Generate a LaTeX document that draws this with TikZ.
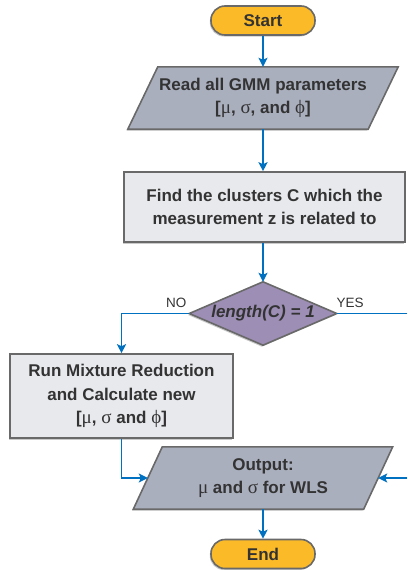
\documentclass[tikz,border=0pt]{standalone}
\usepackage{fontspec}
\setmainfont{Liberation Sans}
\newfontfamily\greekfont{Liberation Serif}
\usetikzlibrary{arrows.meta,shadows,backgrounds,calc}

\definecolor{flowblue}{RGB}{0,112,192}
\definecolor{edgegray}{RGB}{105,105,105}
\definecolor{termfill}{RGB}{251,186,40}
\definecolor{iofill}{RGB}{170,175,190}
\definecolor{procfill}{RGB}{232,233,237}
\definecolor{decfill}{RGB}{157,142,181}
\definecolor{textgray}{RGB}{51,51,51}

% upright serif Greek letters inside the bold sans labels
\newcommand{\gk}[1]{{\greekfont\mdseries\fontsize{19}{23.5}\selectfont #1}}

\begin{document}
\begin{tikzpicture}[x=1pt,y=-1pt,
  softshadow/.style={drop shadow={shadow xshift=-1.2pt,shadow yshift=-1.5pt,opacity=0.35,fill=black!60}},
  boxtext/.style={font=\fontsize{17}{23.5}\selectfont\bfseries, text=textgray, align=center, inner sep=0pt},
  terminal/.style={boxtext, draw=edgegray, line width=1.6pt, fill=termfill, rounded corners=14pt,
    minimum width=104pt, minimum height=29pt, softshadow},
  process/.style={boxtext, draw=edgegray, line width=1.6pt, fill=procfill, softshadow},
  band/.style={boxtext},
  shapeline/.style={draw=edgegray, line width=1.6pt, softshadow},
  flow/.style={draw=flowblue, line width=1.8pt, -{Stealth[length=9pt,width=9pt,inset=2pt]}},
  flowline/.style={draw=flowblue, line width=1.8pt},
  branch/.style={font=\fontsize{13.5}{13.5}\selectfont, text=textgray, inner sep=0pt}
]
\useasboundingbox (0,0) rectangle (407,570);

% nodes
\node[terminal] (start) at (263,20.5) {Start};
\node[band, minimum width=240pt, minimum height=62pt] (read) at (263,98)
  {Read all GMM parameters\\ {[}\gk{μ}, \gk{σ}, and \gk{ϕ}]};
\node[process, minimum width=281pt, minimum height=70pt] (find) at (264.5,207)
  {Find the clusters C which the\\ measurement z is related to};
\node[band, minimum width=147pt, minimum height=63pt,
  font=\fontsize{17}{20}\selectfont\bfseries\itshape] (dec) at (263,313.5) {length(C) = 1};
\node[process, minimum width=223pt, minimum height=84pt] (red) at (121.5,396)
  {Run Mixture Reduction\\ and Calculate new\\ {[}\gk{μ}, \gk{σ} and \gk{ϕ}]};
\node[band, minimum width=230pt, minimum height=62pt] (out) at (263,478)
  {Output:\\ \gk{μ} and \gk{σ} for WLS};
\node[terminal] (end) at (263,554) {End};

% slanted input/output boxes and the decision diamond
\begin{scope}[on background layer]
  \path[shapeline, fill=iofill]
    ($(read.north west)+(15,0)$) -- ($(read.north east)+(15,0)$) --
    ($(read.south east)+(-15,0)$) -- ($(read.south west)+(-15,0)$) -- cycle;
  \path[shapeline, fill=iofill]
    ($(out.north west)+(14.5,0)$) -- ($(out.north east)+(14.5,0)$) --
    ($(out.south east)+(-14.5,0)$) -- ($(out.south west)+(-14.5,0)$) -- cycle;
  \path[shapeline, fill=decfill]
    (dec.north) -- (dec.east) -- (dec.south) -- (dec.west) -- cycle;
\end{scope}

% branch labels
\node[branch] (nolabel) at ($(dec.west)+(-13,-10.5)$) {NO};
\node[branch] (yeslabel) at ($(dec.east)+(13.5,-10.5)$) {YES};

% connectors
\coordinate (yesout) at (407,313.5);
\coordinate (yesin) at (407,478);
\draw[flow] (start) -- (read);
\draw[flow] (read.south) -- (read.south |- find.north);
\draw[flow] (dec.north |- find.south) -- (dec.north);
\draw[flow] (dec.west) -| (red.north);
\draw[flowline] (dec.east) -- (yesout);
\draw[flow] (red.south) |- (out.west);
\draw[flow] (yesin) -- (out.east);
\draw[flow] (out) -- (end);
\end{tikzpicture}
\end{document}
